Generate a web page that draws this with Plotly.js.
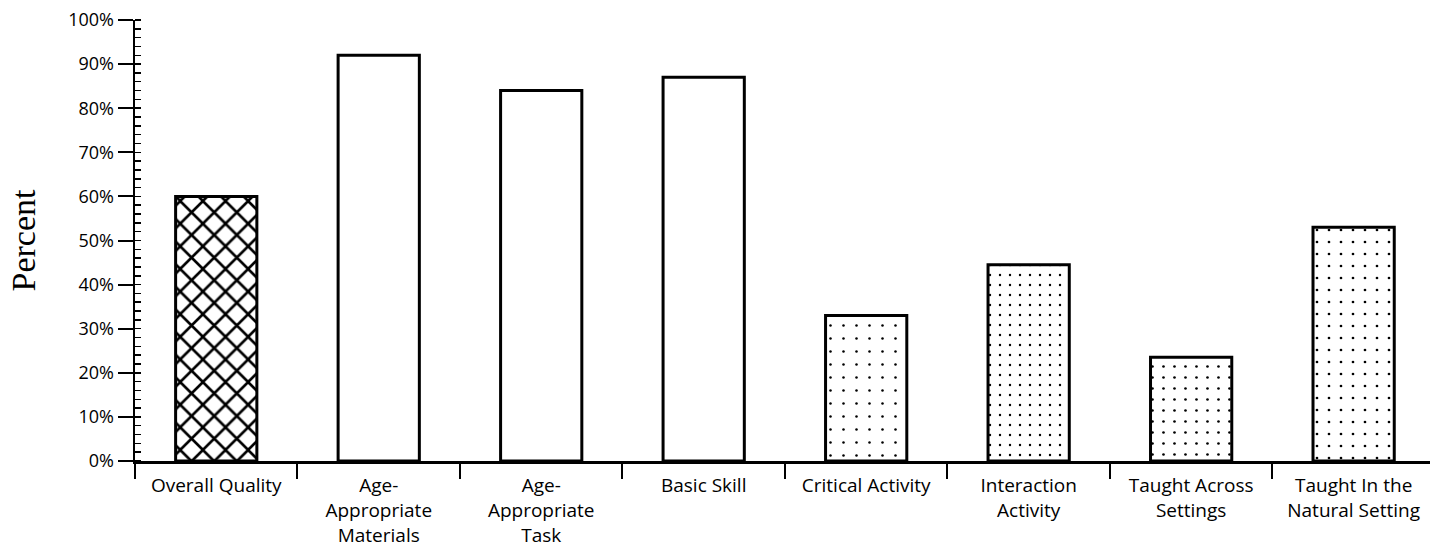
<!DOCTYPE html>
<html>
<head>
<meta charset="utf-8">
<script src="https://cdn.plot.ly/plotly-3.0.1.min.js"></script>
<style>
html,body{margin:0;padding:0;background:#fff;}
#chart{width:1430px;height:552px;}
</style>
</head>
<body>
<div id="chart"></div>
<script>
var categories = [
  "Overall Quality",
  "Age-<br>Appropriate<br>Materials",
  "Age-<br>Appropriate<br>Task",
  "Basic Skill",
  "Critical Activity",
  "Interaction<br>Activity",
  "Taught Across<br>Settings",
  "Taught In the<br>Natural Setting"
];
var percentValues = [60, 92, 84, 87, 33, 44.5, 23.5, 53];
var yTickValues = [0, 10, 20, 30, 40, 50, 60, 70, 80, 90, 100];
var yTickLabels = ["0%", "10%", "20%", "30%", "40%", "50%", "60%", "70%", "80%", "90%", "100%"];
var fillPatterns = ["x", "", "", "", ".", ".", ".", "."];

var sansFont = "Open Sans, Lato, sans-serif";

var trace = {
  type: "bar",
  x: categories,
  y: percentValues,
  width: 0.5,
  marker: {
    color: "#ffffff",
    line: {color: "#000000", width: 3},
    pattern: {
      shape: fillPatterns,
      fgcolor: "#000000",
      bgcolor: "#ffffff",
      size: [16, 10, 10, 10, 13, 10, 11, 12],
      solidity: [0.3, 0.03, 0.03, 0.03, 0.03, 0.045, 0.045, 0.04],
      fillmode: "replace"
    }
  },
  hoverinfo: "x+y"
};

var layout = {
  width: 1430,
  height: 552,
  margin: {l: 135, r: 0, t: 20, b: 91, pad: 0},
  paper_bgcolor: "#ffffff",
  plot_bgcolor: "#ffffff",
  showlegend: false,
  bargap: 0.5,
  xaxis: {
    type: "category",
    range: [-0.5, 7.47],
    tickson: "boundaries",
    ticks: "outside",
    ticklen: 15,
    tickwidth: 2,
    tickcolor: "#000000",
    showline: true,
    linecolor: "#000000",
    linewidth: 2.5,
    showgrid: false,
    zeroline: false,
    tickfont: {family: sansFont, size: 19, color: "#000000"},
    ticklabelstandoff: 6,
    tickangle: 0,
    automargin: false
  },
  yaxis: {
    range: [0, 100],
    tickmode: "array",
    tickvals: yTickValues,
    ticktext: yTickLabels,
    ticks: "outside",
    ticklen: 15,
    tickwidth: 2,
    tickcolor: "#000000",
    showline: true,
    linecolor: "#000000",
    linewidth: 2.5,
    showgrid: false,
    zeroline: false,
    tickfont: {family: sansFont, size: 18, color: "#000000"},
    minor: {dtick: 2, ticks: "inside", ticklen: 6, tickwidth: 1.5, tickcolor: "#000000", showgrid: false},
    title: {text: "Percent", font: {family: "Liberation Serif, Times New Roman, serif", size: 34, color: "#000000"}, standoff: 22},
    automargin: false
  }
};

Plotly.newPlot("chart", [trace], layout, {displayModeBar: false, staticPlot: true});
</script>
</body>
</html>
